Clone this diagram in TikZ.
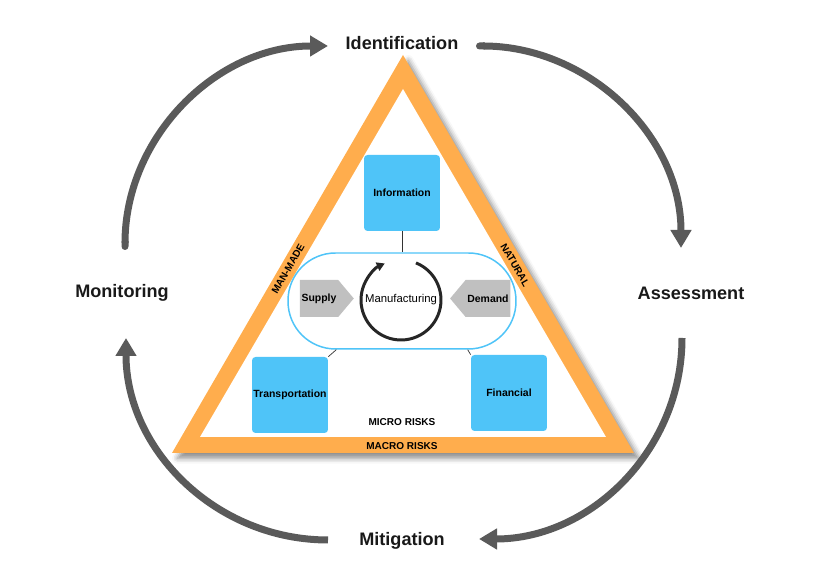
\documentclass[tikz,border=0pt]{standalone}
\usepackage{fontspec}
\setmainfont{Liberation Sans}
\usetikzlibrary{arrows.meta,positioning,shapes.symbols,shadows.blur}

\definecolor{riskorange}{RGB}{255,173,77}
\definecolor{boxblue}{RGB}{79,196,248}
\definecolor{arrowgray}{RGB}{90,90,90}
\definecolor{taggray}{RGB}{192,192,192}

\begin{document}
\begin{tikzpicture}[x=0.02cm,y=0.02cm,auto]
  \tikzstyle{phase}=[font=\fontsize{10.3}{12}\selectfont\bfseries,text=black!90]
  \tikzstyle{area}=[fill=boxblue,rounded corners=2pt,minimum width=1.52cm,minimum height=1.52cm,inner sep=0pt,font=\fontsize{5.95}{7}\selectfont\bfseries]
  \tikzstyle{tag}=[signal,fill=taggray,signal pointer angle=100,minimum width=1.08cm,minimum height=0.74cm,inner sep=1pt,font=\fontsize{5.95}{7}\selectfont\bfseries]
  \tikzstyle{band}=[inner sep=0pt,font=\fontsize{5.7}{7}\selectfont\bfseries]
  \tikzstyle{cyc}=[draw=arrowgray,line width=0.14cm,-{Triangle[width=0.4cm,length=0.36cm]}]
  \tikzstyle{link}=[draw=black!80,line width=0.4pt]

  \useasboundingbox (0,0) rectangle (818,580);

  % risk triangle
  \fill[riskorange,blur shadow={shadow xshift=3pt,shadow yshift=-3pt,shadow blur radius=3pt,shadow opacity=45}]
    (403,525) -- (634,127) -- (172,127) -- cycle;
  \fill[white] (403,491) -- (606,143) -- (200,143) -- cycle;
  \node[band,rotate=60]  (manmade) at (288,311) {MAN-MADE};
  \node[band,rotate=-60] (natural) at (515,315) {NATURAL};
  \node[band] (micro) at (402,158) {MICRO RISKS};
  \node[band] (macro) at (402,134) {MACRO RISKS};

  % risk areas
  \node[area] (info)  at (402,387) {Information};
  \node[area] (trans) at (290,185) {Transportation};
  \node[area] (fin)   at (509,187) {Financial};

  % supply chain
  \node[draw=boxblue,line width=0.85pt,rounded corners=0.95cm,minimum width=4.56cm,minimum height=1.92cm] (chain) at (402,279) {};
  \node[tag,signal to=east] (supply) at (319,281.5) {Supply};
  \node[tag,signal to=west] (demand) at (488,281.5) {Demand};
  \node[font=\fontsize{6.45}{8}\selectfont] (mfg) at (401,280) {Manufacturing};
  \draw[line width=1.7pt,draw=black!85,-{Triangle[width=5pt,length=4.5pt]}]
    (mfg) ++(68:0.8cm) arc[start angle=68,end angle=-246,radius=0.8cm];

  \draw[link] (info) -- (chain);
  \draw[link] (trans.north east) -- ([xshift=0.98cm]chain.south west);
  \draw[link] (fin.north west) -- ([xshift=-0.98cm]chain.south east);

  % risk management cycle
  \node[phase] (ident)  at (402,537) {Identification};
  \node[phase] (assess) at (691,287) {Assessment};
  \node[phase] (mitig)  at (402,39)  {Mitigation};
  \node[phase] (monit)  at (122,287) {Monitoring};

  \coordinate (c1) at (125,330);
  \coordinate (c2) at (328,534);
  \coordinate (c3) at (476,534);
  \coordinate (c4) at (681,332);
  \coordinate (c5) at (682,242);
  \coordinate (c6) at (479,41);
  \coordinate (c7) at (328,40);
  \coordinate (c8) at (126,242);

  \draw[cyc,{Round Cap[]}-{Triangle[width=0.4cm,length=0.36cm]}] (c1) to[out=90,in=180] (c2);
  \draw[cyc,{Round Cap[]}-{Triangle[width=0.4cm,length=0.36cm]}] (c3) to[out=0,in=90] (c4);
  \draw[cyc] (c5) to[out=-90,in=0] (c6);
  \draw[cyc] (c7) to[out=180,in=-90] (c8);
\end{tikzpicture}
\end{document}
